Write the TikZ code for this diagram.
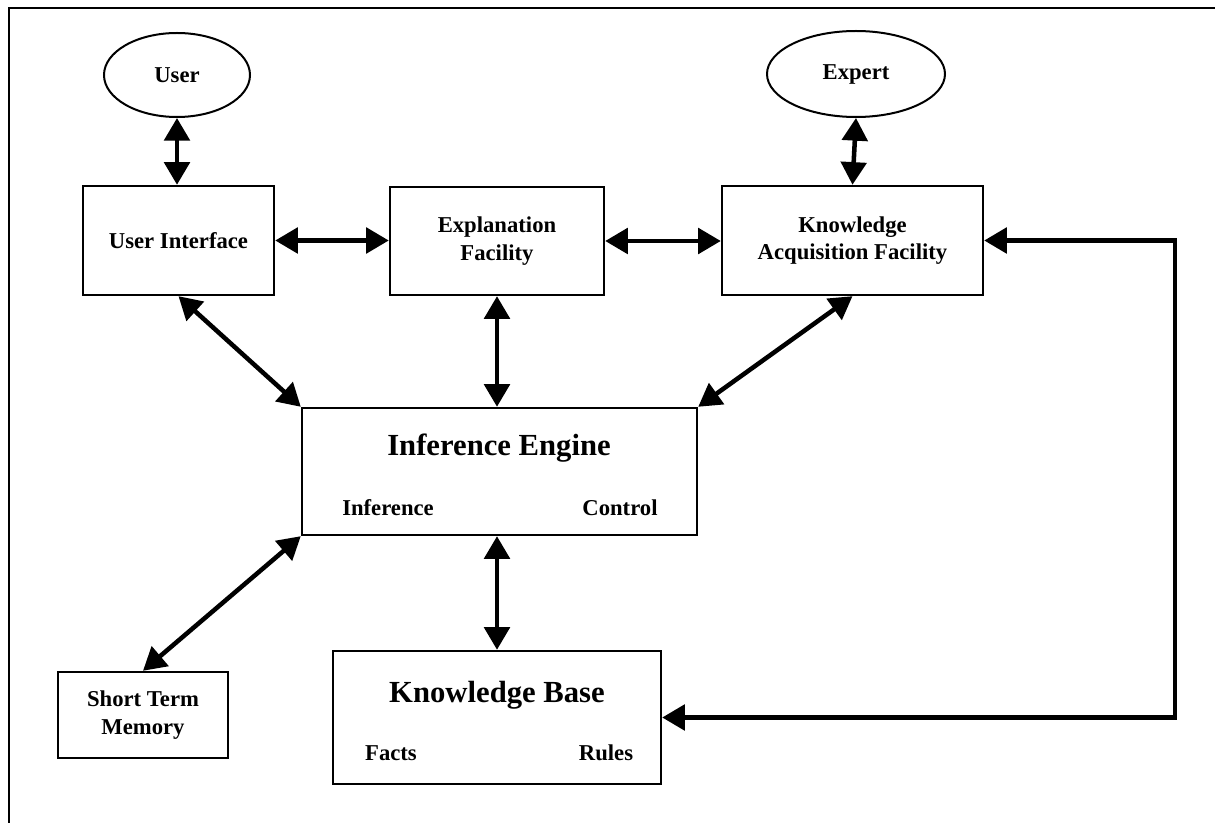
\documentclass[tikz,border=0pt]{standalone}
\usepackage{fontspec}
\setmainfont{Liberation Serif}
\usetikzlibrary{arrows.meta,shapes.geometric}

\tikzset{
  lbl/.style={font=\fontsize{17}{20.5}\selectfont\bfseries, align=center},
  title/.style={font=\fontsize{23}{27}\selectfont\bfseries},
  box/.style={draw, line width=1.8pt, rectangle, inner sep=0pt, lbl},
  actor/.style={draw, line width=1.5pt, ellipse, inner sep=0pt, lbl},
  dbl/.style={line width=3.4pt, line join=miter,
    {Triangle[length=17pt,width=19pt]}-{Triangle[length=17pt,width=19pt]}},
}

\begin{document}
\begin{tikzpicture}[x=0.75pt, y=-0.75pt]
  % page and outer frame
  \fill[white] (0,0) rectangle (1215,823);
  \useasboundingbox (0,0) rectangle (1215,823);
  \draw[line width=1.6pt] (1215,8) -- (9,8) -- (9,823);

  % actors
  \node[actor, minimum width=109.5pt, minimum height=63pt] (user) at (177,75) {User};
  \node[actor, minimum width=133.5pt, minimum height=64.5pt] (expert) at (856,74) {Expert};

  % top row of components
  \node[box, minimum width=143.25pt, minimum height=81.75pt] (ui) at (178.5,240.5) {User Interface};
  \node[box, minimum width=160.5pt, minimum height=81pt] (ef) at (497,241) {Explanation\\Facility};
  \node[box, minimum width=195.75pt, minimum height=81.75pt] (kaf) at (852.5,240.5) {Knowledge\\Acquisition Facility};

  % inference engine
  \node[box, minimum width=296.25pt, minimum height=95.25pt] (ie) at (499.5,471.5) {};
  \node[title] (ietitle) at (499,448) {Inference Engine};
  \node[lbl] (ieinf) at (388,508) {Inference};
  \node[lbl] (iectl) at (620,508) {Control};

  % memory and knowledge base
  \node[box, minimum width=127.5pt, minimum height=64.5pt] (stm) at (143,715) {Short Term\\Memory};
  \node[box, minimum width=246pt, minimum height=99.75pt] (kb) at (497,717.5) {};
  \node[title] (kbtitle) at (497,695) {Knowledge Base};
  \node[lbl] (kbfacts) at (391,753) {Facts};
  \node[lbl] (kbrules) at (606,753) {Rules};

  % bend points of the feedback line
  \coordinate (fbtop) at (1175,240.5);
  \coordinate (fbbot) at (1175,717.5);

  % connectors
  \draw[dbl] (user.south) -- (user.south |- ui.north);
  \draw[dbl] (expert.south) -- (kaf.north);
  \draw[dbl] (ui.east) -- (ui.east -| ef.west);
  \draw[dbl] (ef.east) -- (ef.east -| kaf.west);
  \draw[dbl] (ui.south) -- (ie.north west);
  \draw[dbl] (ef.south) -- (ef.south |- ie.north);
  \draw[dbl] (kaf.south) -- (ie.north east);
  \draw[dbl] (ie.south west) -- (stm.north);
  \draw[dbl] (kb.north |- ie.south) -- (kb.north);
  \draw[dbl] (kaf.east) -- (fbtop) -- (fbbot) -- (kb.east);
\end{tikzpicture}
\end{document}
